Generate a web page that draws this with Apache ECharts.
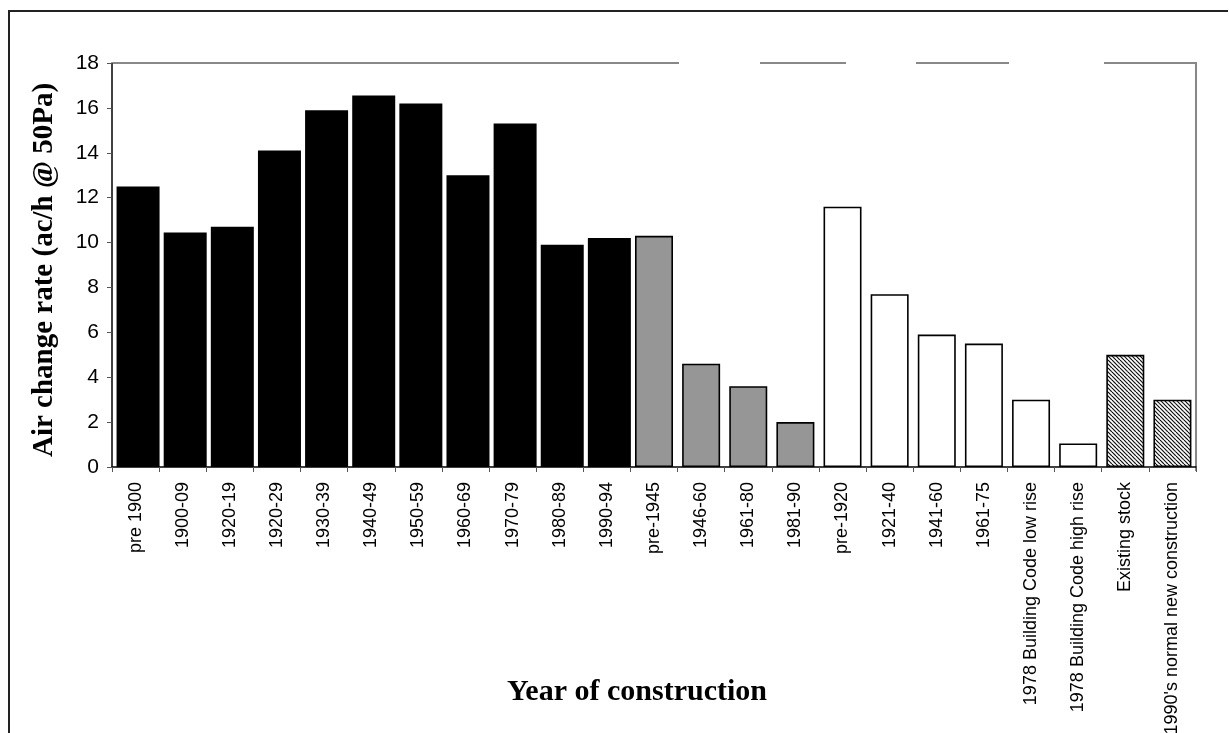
<!DOCTYPE html>
<html><head><meta charset="utf-8">
<script src="https://cdn.jsdelivr.net/npm/echarts@6/dist/echarts.min.js"></script>
<style>html,body{margin:0;padding:0;background:#fff;overflow:hidden}#c{width:1229px;height:733px}</style>
</head><body><div id="c"></div>
<script>
const categories = ['pre 1900','1900-09','1920-19','1920-29','1930-39','1940-49','1950-59','1960-69','1970-79','1980-89','1990-94',
  'pre-1945','1946-60','1961-80','1981-90',
  'pre-1920','1921-40','1941-60','1961-75','1978 Building Code low rise','1978 Building Code high rise',
  'Existing stock',"1990's normal new construction"];
const blackValues = [12.5, 10.45, 10.7, 14.1, 15.9, 16.55, 16.2, 13.0, 15.3, 9.9, 10.2];
const grayValues = [10.3, 4.6, 3.6, 2.0];
const whiteValues = [11.6, 7.7, 5.9, 5.5, 3.0, 1.05];
const hatchValues = [5.0, 3.0];
const yMin = 0, yMax = 18, yStep = 2;

function pad(before, vals, after){
  return Array(before).fill('-').concat(vals, Array(after).fill('-'));
}
const n = categories.length;
const o1 = blackValues.length, o2 = o1 + grayValues.length, o3 = o2 + whiteValues.length;
const blackData = pad(0, blackValues, n - o1);
const grayData = pad(o1, grayValues, n - o2);
const whiteData = pad(o2, whiteValues, n - o3);
const hatchData = pad(o3, hatchValues, n - o3 - hatchValues.length);

function hatchCanvas(){
  const c = document.createElement('canvas'); c.width = 8; c.height = 8;
  const g = c.getContext('2d');
  g.fillStyle = '#fff'; g.fillRect(0,0,8,8);
  g.strokeStyle = '#111'; g.lineWidth = 1.2;
  for (let k = -8; k <= 8; k += 4){ g.beginPath(); g.moveTo(k,0); g.lineTo(k+8,8); g.stroke(); }
  return c;
}

const chart = echarts.init(document.getElementById('c'), null, {renderer:'canvas'});
const outlined = {borderColor:'#000', borderWidth:1.6};
chart.setOption({
  animation:false,
  backgroundColor:'#fff',
  grid:{left:112, right:33, top:63, bottom:266, containLabel:false, outerBoundsMode:'none'},
  xAxis:{
    type:'category', data:categories, boundaryGap:true,
    axisLine:{lineStyle:{color:'#000', width:1.5}},
    axisTick:{show:true, interval:0, length:5, lineStyle:{color:'#555', width:1}},
    axisLabel:{interval:0, rotate:90, fontSize:18, color:'#000', fontFamily:'Liberation Sans, Arial, sans-serif', margin:15}
  },
  yAxis:{
    type:'value', min:yMin, max:yMax, interval:yStep,
    splitLine:{show:false},
    axisLine:{show:true, lineStyle:{color:'#000', width:1.5}},
    axisTick:{show:true, length:5, lineStyle:{color:'#555', width:1}},
    axisLabel:{fontSize:21, color:'#000', fontFamily:'Liberation Sans, Arial, sans-serif', margin:13}
  },
  series:[
    {type:'bar', data:blackData, barWidth:43, barGap:'-100%', itemStyle:{color:'#000'}},
    {type:'bar', data:grayData, barWidth:38, barGap:'-100%', itemStyle:Object.assign({color:'#969696'}, outlined)},
    {type:'bar', data:whiteData, barWidth:38, barGap:'-100%', itemStyle:Object.assign({color:'#fff'}, outlined)},
    {type:'bar', data:hatchData, barWidth:38, barGap:'-100%', itemStyle:Object.assign({color:{image:hatchCanvas(), repeat:'repeat'}}, outlined)}
  ],
  graphic:[
    {type:'polyline', shape:{points:[[9,740],[9,11],[1228,11]]}, style:{stroke:'#222', lineWidth:2, fill:null}, silent:true},
    {type:'line', shape:{x1:113,y1:63,x2:679,y2:63}, style:{stroke:'#888', lineWidth:2}, silent:true},
    {type:'line', shape:{x1:760,y1:63,x2:846,y2:63}, style:{stroke:'#888', lineWidth:2}, silent:true},
    {type:'line', shape:{x1:916,y1:63,x2:1009,y2:63}, style:{stroke:'#888', lineWidth:2}, silent:true},
    {type:'line', shape:{x1:1104,y1:63,x2:1196,y2:63}, style:{stroke:'#888', lineWidth:2}, silent:true},
    {type:'line', shape:{x1:1196,y1:62,x2:1196,y2:471}, style:{stroke:'#888', lineWidth:2}, silent:true},
    {type:'text', x:45, y:270, rotation:Math.PI/2, style:{text:'Air change rate (ac/h @ 50Pa)', font:'bold 29px "Liberation Serif", "Times New Roman", serif', fill:'#000', textAlign:'center', textVerticalAlign:'middle'}, silent:true},
    {type:'text', x:637, y:692, style:{text:'Year of construction', font:'bold 30px "Liberation Serif", "Times New Roman", serif', fill:'#000', textAlign:'center', textVerticalAlign:'middle'}, silent:true}
  ]
});
</script>
</body></html>
